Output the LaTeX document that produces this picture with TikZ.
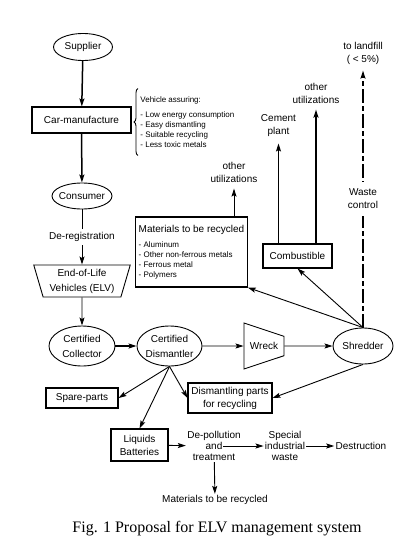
\documentclass[tikz,border=0pt]{standalone}
\usepackage{fontspec}
\setmainfont{Liberation Sans}
\newfontfamily\capfont{Liberation Serif}
\usepackage{tikz}
\tikzset{basic/.style={draw,fill=none,text badly centered,align=center,inner sep=1pt,line width=0.9pt}}
\tikzset{proc/.style={basic,rectangle,line width=1.05pt}}
\tikzset{party/.style={basic,ellipse,inner xsep=-2pt,font=\fontsize{10}{15}\selectfont}}
\usetikzlibrary{decorations.pathreplacing}
\usetikzlibrary{arrows.meta, shapes}
\usetikzlibrary{positioning}
\newcommand{\lst}{\fontsize{8}{10}\selectfont}

\begin{document}
\begin{tikzpicture}[x=1pt,y=-1pt,line width=0.9pt,>={Stealth[length=8pt,width=5pt,inset=1.5pt]},
		every node/.style={font=\fontsize{10}{13}\selectfont}]
		\tikzstyle{trap}=[basic,trapezium,trapezium stretches=true,font=\fontsize{10}{15}\selectfont]
		\tikzstyle{dest}=[align=center,inner xsep=1pt,inner ysep=6pt]
		\tikzstyle{step3}=[align=center,inner sep=1pt,font=\fontsize{10}{11}\selectfont]
		\tikzstyle{heavy}=[line width=1.5pt]
		\tikzstyle{dashdot}=[dash pattern=on 14pt off 3pt on 5pt off 3pt]
		\useasboundingbox (0,0) rectangle (412,551);

		% main chain
		\node[party,minimum width=59pt,minimum height=27pt](sup) at (83,47){Supplier};
		\node[proc,minimum width=99pt,minimum height=26pt](car) at (81.5,120){Car-manufacture};
		\node[align=left,anchor=west,inner sep=2pt,minimum height=66pt,font=\lst](assure) at (138,122){Vehicle assuring:\\[5pt]- Low energy consumption\\- Easy dismantling\\- Suitable recycling\\- Less toxic metals};
		\node[party,minimum width=60pt,minimum height=26pt](cons) at (82,196){Consumer};
		\node[trap,shape border rotate=180,trapezium left angle=73,trapezium right angle=73,minimum width=97pt,minimum height=32pt](elv) at (82,281){End-of-Life\\Vehicles (ELV)};
		\node[party,minimum width=66pt,minimum height=40pt](col) at (82,346){Certified\\Collector};
		\node[party,minimum width=65pt,minimum height=40pt](dis) at (169.5,346){Certified\\Dismantler};
		\node[trap,shape border rotate=270,trapezium left angle=78,trapezium right angle=78,minimum width=46pt,minimum height=40pt](wreck) at (264,346){Wreck};
		\node[party,minimum width=60pt,minimum height=36pt](shred) at (363,346){Shredder};

		% shredder outputs
		\node[proc,minimum width=109pt,minimum height=70pt,align=left,inner sep=3pt](mat) at (191.5,252){Materials to be recycled\\[2pt]{\lst - Aluminum}\\[-3pt]{\lst - Other non-ferrous metals}\\[-3pt]{\lst - Ferrous metal}\\[-3pt]{\lst - Polymers}};
		\node[proc,minimum width=69pt,minimum height=24pt](comb) at (297.5,256){Combustible};
		\node[dest](util1) at (234,172){other\\utilizations};
		\node[dest](cement) at (278.5,126){Cement\\plant};
		\node[dest](util2) at (316,93){other\\utilizations};
		\node[dest](landfill) at (363,53){to landfill\\( < 5\%)};

		% dismantler outputs
		\node[proc,minimum width=72pt,minimum height=20pt](spare) at (82,398){Spare-parts};
		\node[proc,minimum width=84pt,minimum height=30pt](parts) at (230,398){Dismantling parts\\for recycling};
		\node[proc,minimum width=57pt,minimum height=32pt](liq) at (139.5,445){Liquids\\Batteries};
		\node[step3](depoll) at (214,446){De-pollution\\and\\treatment};
		\node[step3](special) at (285,446){Special\\industrial\\waste};
		\node[step3](destr) at (361,446){Destruction};
		\node[inner sep=1pt](recyc) at (215,500){Materials to be recycled};

		\node[font=\capfont\fontsize{16}{18}\selectfont](caption) at (217,529){Fig. 1 Proposal for ELV management system};

		\draw[decorate,decoration={brace,amplitude=4pt}] (assure.south west) -- (assure.north west);

		\draw[->,heavy] (sup) -- (car);
		\draw[->,heavy] (car) -- (cons);
		\draw[->] (cons) -- node[fill=white,inner sep=3pt]{De-registration} (elv);
		\draw[->] (elv) -- (col);
		\draw[->,line width=1.2pt] (col) -- (dis);
		\draw[->] (dis) -- (wreck);
		\draw[->] (wreck) -- (shred);

		\draw[->] (shred.north) -- (comb.south);
		\draw[->] (shred.north) -- (mat.south east);
		\draw[->,heavy,dashdot] (shred.north) -- node[fill=white,align=center,inner xsep=2pt,inner ysep=7pt]{Waste\\control} (landfill);
		\draw[->] (util1 |- mat.north) -- (util1);
		\draw[->] (cement |- comb.north) -- (cement);
		\draw[->,heavy] (util2 |- comb.north) -- (util2);

		\draw[->] (dis.south) -- (spare.east);
		\draw[->] (dis.south) -- (parts.west);
		\draw[->] (dis.south) -- (liq.north);
		\draw[->] (shred.south) -- (parts.east);
		\draw[->] (liq) -- (depoll);
		\draw[->,shorten <=9pt] (depoll.center) -- (special);
		\draw[->] (special) -- (destr);
		\draw[->] (depoll) -- (recyc);
	\end{tikzpicture}
\end{document}
